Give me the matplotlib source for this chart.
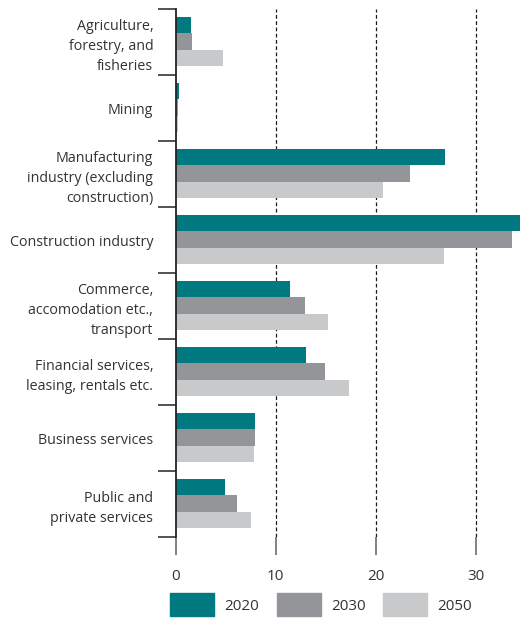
import numpy as np
import matplotlib.pyplot as plt
from matplotlib.patches import Patch

# --- data ---
sectors = [
    "Agriculture,\nforestry, and\nfisheries",
    "Mining",
    "Manufacturing\nindustry (excluding\nconstruction)",
    "Construction industry",
    "Commerce,\naccomodation etc.,\ntransport",
    "Financial services,\nleasing, rentals etc.",
    "Business services",
    "Public and\nprivate services",
]
years = ["2020", "2030", "2050"]
v2020 = [1.5, 0.35, 26.9, 34.5, 11.4, 13.0, 7.9, 4.9]
v2030 = [1.6, 0.25, 23.4, 33.6, 12.9, 14.9, 7.9, 6.1]
v2050 = [4.7, 0.25, 20.7, 26.8, 15.2, 17.3, 7.8, 7.5]
colors = ["#007A80", "#939598", "#C8C9CB"]
xticks = [0, 10, 20, 30]

plt.rcParams['font.family'] = ['Open Sans', 'DejaVu Sans']
txt = '#333333'

fig = plt.figure(figsize=(5.2, 6.19), dpi=100)
ax = fig.add_axes([175.5 / 520, (619 - 537) / 619, 345 / 520, 528 / 619])

n = len(sectors)
y = np.arange(n)
h = 0.25
for i, (vals, c) in enumerate(zip([v2020, v2030, v2050], colors)):
    ax.barh(y + (i - 1) * h - 0.01, vals, height=h, color=c, zorder=3)

ax.set_xlim(0, 34.5)
ax.set_ylim(n - 0.5, -0.5)

# dashed grid at 10/20/30
for xv in xticks[1:]:
    ax.axvline(xv, color='#1a1a1a', lw=0.9, ls=(0, (3, 2)), zorder=1)

for s in ['top', 'right', 'bottom']:
    ax.spines[s].set_visible(False)
ax.spines['left'].set_color('#222222')
ax.spines['left'].set_linewidth(1.3)
ax.spines['left'].set_zorder(4)

ax.set_yticks(y)
ax.set_yticklabels(sectors, fontsize=10.3, color=txt, linespacing=1.45)
ax.set_yticks(np.arange(-0.5, n, 1), minor=True)
ax.tick_params(axis='y', which='major', length=0, pad=16)
ax.tick_params(axis='y', which='minor', length=13, width=1.3, color='#444444')

ax.set_xticks(xticks)
ax.set_xticklabels([str(t) for t in xticks], fontsize=11, color=txt)
ax.tick_params(axis='x', length=13, width=1.3, color='#777777', pad=10)

handles = [Patch(color=c) for c in colors]
fig.legend(handles, years, loc='lower left', bbox_to_anchor=(167 / 520, 0.0),
           ncol=3, frameon=False, fontsize=11, handlelength=2.9, handleheight=1.9,
           handletextpad=0.65, columnspacing=1.15, borderaxespad=0.1,
           borderpad=0.1, labelcolor=txt)

plt.savefig("out.png", dpi=100)
